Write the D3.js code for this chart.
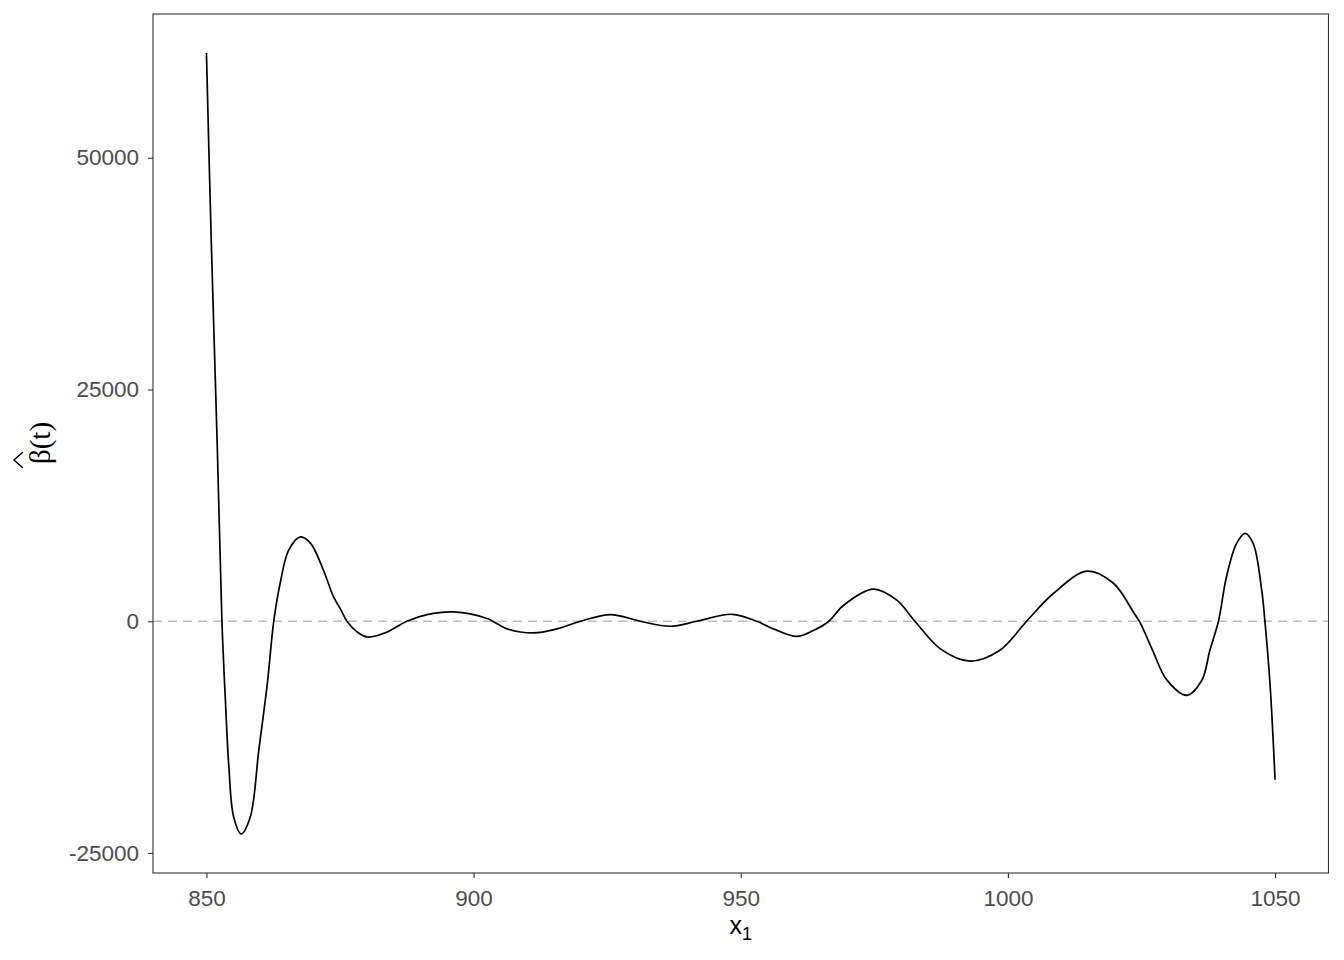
<!DOCTYPE html>
<html>
<head>
<meta charset="utf-8">
<script src="https://cdn.jsdelivr.net/npm/d3@7/dist/d3.min.js"></script>
<style>
  html, body { margin: 0; padding: 0; background: #ffffff; }
  svg { display: block; }
</style>
</head>
<body>
<svg id="chart" width="1344" height="960"></svg>
<script>
// Estimated curve values
const xValues = [850, 850.9, 852, 852.9, 853.55, 854.2, 855.1, 856.5, 858.2, 859.8, 861.4, 862.6,
  863.8, 865.4, 867.6, 869.5, 871.9, 873.8, 875.1, 876.3, 878.2, 880.1, 883.5, 887.5, 891.3, 896.3,
  902.5, 906.3, 911.2, 915.6, 920, 925.6, 931.2, 936.8, 941.8, 948.4, 953, 956.1, 960.5, 963.6,
  966.5, 969.2, 974.8, 979.2, 982.6, 987.3, 992.9, 998.5, 1003.5, 1008.5, 1014.8, 1019.8, 1023.5,
  1024.7, 1027.2, 1029.7, 1033.5, 1036.3, 1037.8, 1039.4, 1040.9, 1042.8, 1044.4, 1045.9, 1047.5,
  1048.1, 1049.05, 1050];
const betaValues = [61300, 41100, 19500, 0, -8530, -15730, -21130, -22950, -21130, -13930, -6700, 0,
  4100, 7670, 9100, 8400, 5500, 2620, 1300, 0, -1150, -1700, -1250, 0, 720, 1000,
  290, -820, -1260, -820, 0, 720, 0, -540, 0, 750, 0, -820, -1640, -1000,
  0, 1700, 3460, 2270, 0, -2950, -4300, -3130, 0, 2990, 5400, 4070, 970,
  -100, -3300, -6300, -7990, -6370, -3130, 0, 4780, 8390, 9470, 8390, 3350,
  0, -6730, -17100];
const xTicks = [850, 900, 950, 1000, 1050];
const yTicks = [-25000, 0, 25000, 50000];

const svg = d3.select("#chart");
const panel = { left: 153, right: 1328.5, top: 14, bottom: 873 };

const data = xValues.map((x, i) => ({ x, y: betaValues[i] }));

const xMin = d3.min(xValues), xMax = d3.max(xValues);
const yMin = d3.min(betaValues), yMax = d3.max(betaValues);
const xPad = (xMax - xMin) * 0.05, yPad = (yMax - yMin) * 0.05;

const x = d3.scaleLinear().domain([xMin - xPad, xMax + xPad]).range([panel.left, panel.right]);
const y = d3.scaleLinear().domain([yMin - yPad, yMax + yPad]).range([panel.bottom, panel.top]);

// zero reference line
svg.append("line")
  .attr("x1", panel.left).attr("x2", panel.right)
  .attr("y1", y(0)).attr("y2", y(0))
  .attr("stroke", "#bdbdbd").attr("stroke-width", 1.3)
  .attr("stroke-dasharray", "9,6");

// curve
const line = d3.line().x(d => x(d.x)).y(d => y(d.y)).curve(d3.curveCatmullRom.alpha(0.5));
svg.append("path").datum(data)
  .attr("d", line)
  .attr("fill", "none").attr("stroke", "#000000").attr("stroke-width", 1.7)
  .attr("stroke-linejoin", "round");

// panel border
svg.append("rect")
  .attr("x", panel.left).attr("y", panel.top)
  .attr("width", panel.right - panel.left).attr("height", panel.bottom - panel.top)
  .attr("fill", "none").attr("stroke", "#333333").attr("stroke-width", 1.1);

// axes
const xAxis = d3.axisBottom(x).tickValues(xTicks).tickSize(5).tickPadding(4).tickFormat(d3.format("d"));
const yAxis = d3.axisLeft(y).tickValues(yTicks).tickSize(5).tickPadding(9).tickFormat(d => d3.format("d")(d).replace("−", "-"));

const gx = svg.append("g").attr("transform", `translate(0,${panel.bottom})`).call(xAxis);
const gy = svg.append("g").attr("transform", `translate(${panel.left},0)`).call(yAxis);
[gx, gy].forEach(g => {
  g.select(".domain").remove();
  g.selectAll(".tick line").attr("stroke", "#333333").attr("stroke-width", 1.1);
  g.selectAll(".tick text").attr("fill", "#4d4d4d")
    .style("font-family", "'Liberation Sans', Arial, sans-serif").style("font-size", "22.5px");
});
gx.selectAll(".tick text").attr("dy", "1.05em");

// x axis title
const xt = svg.append("text")
  .attr("x", (panel.left + panel.right) / 2).attr("y", 934)
  .attr("text-anchor", "middle")
  .style("font-family", "'Liberation Sans', Arial, sans-serif").style("font-size", "25px")
  .attr("fill", "#000");
xt.append("tspan").text("x");
xt.append("tspan").text("1").attr("dy", 6).style("font-size", "18px");

// y axis title (beta hat of t)
const yt = svg.append("g").attr("transform", "translate(50,443) rotate(-90)");
yt.append("text")
  .attr("x", 0).attr("y", 0)
  .attr("text-anchor", "middle")
  .style("font-family", "'Liberation Serif', 'DejaVu Serif', serif").style("font-size", "29px")
  .attr("fill", "#000")
  .text("β(t)");
yt.append("path")
  .attr("d", d3.line()([[-25, -27], [-17, -36], [-9, -27]]))
  .attr("fill", "none").attr("stroke", "#000").attr("stroke-width", 1.5);
</script>
</body>
</html>
